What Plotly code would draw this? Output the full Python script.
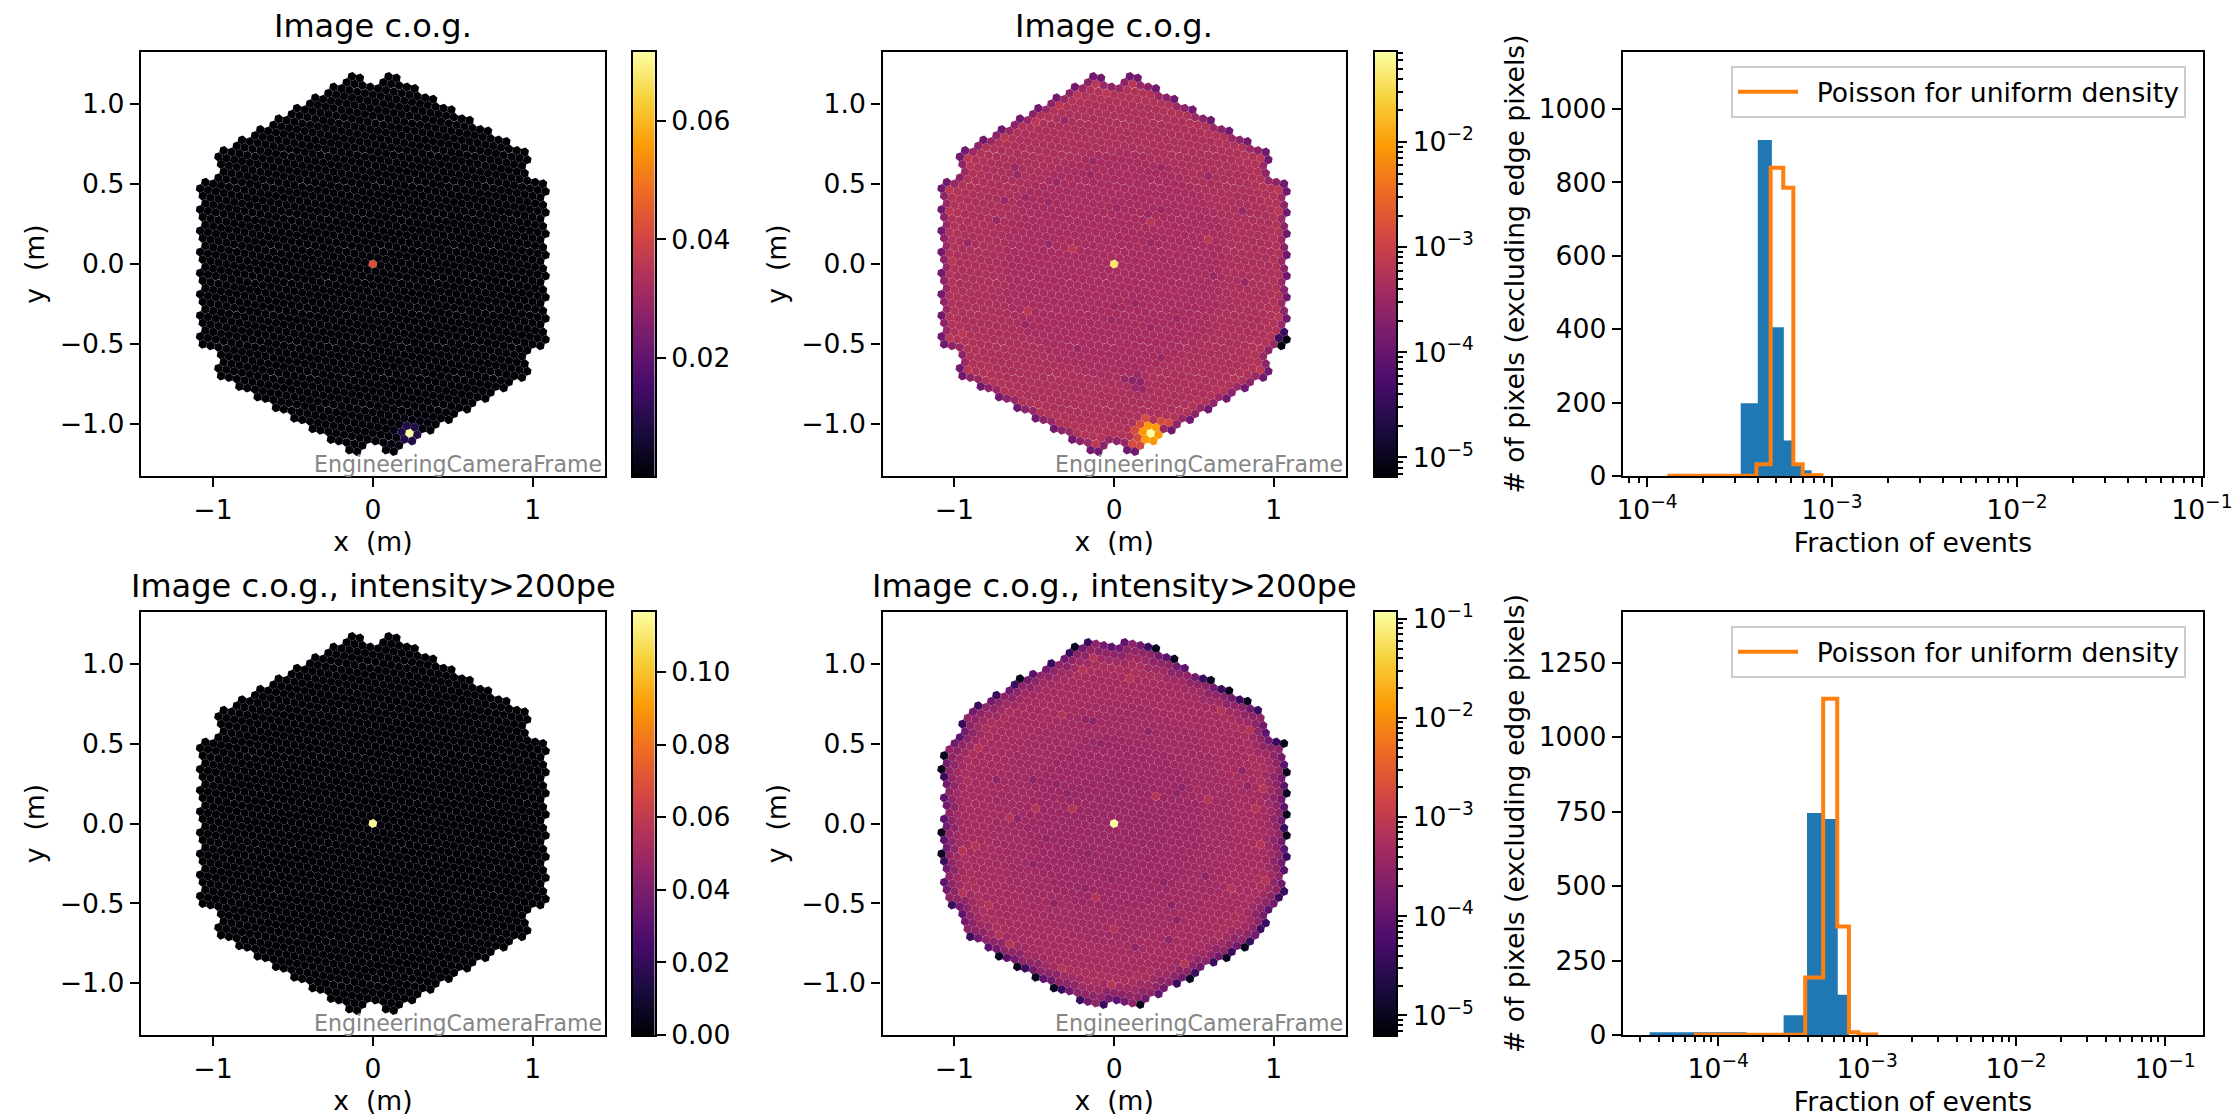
import numpy as np
import plotly.graph_objects as go
from plotly.colors import sequential

FONT = "DejaVu Sans"
W, H = 2235, 1118

# ---- chart text ------------------------------------------------------------
TITLE_ALL = "Image c.o.g."
TITLE_CUT = "Image c.o.g., intensity>200pe"
FRAME_TEXT = "EngineeringCameraFrame"
HIST_X_LABEL = "Fraction of events"
HIST_Y_LABEL = "# of pixels (excluding edge pixels)"
LEGEND_TEXT = "\u00a0\u2009Poisson for uniform density"

# ---- histogram values ------------------------------------------------------
hist1_edges = [3.21e-4, 3.97e-4, 4.73e-4, 5.49e-4, 6.25e-4, 7.0e-4, 7.76e-4]
hist1_counts = [198, 915, 405, 97, 28, 16]
poisson1_edges = [1.32e-4, 3.9e-4, 4.66e-4, 5.45e-4, 6.18e-4, 6.94e-4, 9.0e-4]
poisson1_counts = [1, 32, 840, 785, 32, 2]

hist2_edges = [3.47e-5, 1.55e-4, 2.75e-4, 3.95e-4, 5.15e-4, 6.35e-4, 7.55e-4]
hist2_counts = [9, 2, 66, 745, 725, 135]
poisson2_edges = [7.06e-5, 3.84e-4, 5.07e-4, 6.3e-4, 7.55e-4, 8.75e-4, 1.19e-3]
poisson2_counts = [1, 193, 1128, 364, 9, 2]

# ---- camera pixel values ---------------------------------------------------
# Levels of the uncut image, by radius of the interior and by edge layer
all_radius_limits = [0.70, 1.0, 9.0]
all_radius_levels = [4.4e-4, 4.9e-4, 5.4e-4]
all_layer1_level = 5.6e-4
all_edge_by_neighbours = {2: 1.2e-4, 3: 1.25e-4, 4: 2.4e-4, 5: 3.2e-4}
all_centre = 0.042
all_hot = 0.0715
all_hot_ring = 0.009
all_hot_pos = (0.225, -1.058)
all_dim_level = 3.2e-4
all_dim = [(.117, -.729), (.163, -.738), (.146, -.694), (.065, -.719), (.129, -.777), (.177, -.788),
           (-.129, .646), (-.146, .558), (.298, .604), (-.625, .604), (-.608, .558), (.590, .550),
           (.802, .333), (-.019, -.348), (-.556, -.381), (-.229, -.527), (.296, -.590), (.017, .348),
           (.210, .313), (.225, .133), (-.921, .133), (-.410, .129), (.819, -.110), (.235, -.392),
           (.371, -.340), (.621, -.058), (-.744, .275), (-.692, .400), (-.358, .515), (-.560, .421),
           (-.431, .400), (-.317, .900), (.298, .338), (.131, -.246), (-.004, -.260)]
all_dark_cluster_level = 2.4e-4
all_dark_cluster = [(.117, -.729), (.163, -.738)]
all_bright_level = 7e-4
all_bright = [(-.265, .094), (-.542, -.288), (.235, .260), (.590, .150), (-.900, .613), (-.917, .660),
              (-1.035, .463), (-1.035, .333), (-1.015, .021), (.917, .660), (1.031, .463), (1.031, .333),
              (1.031, -.329), (-.921, -.663), (.917, -.663), (-.115, 1.129), (.115, 1.129), (-.233, 1.067),
              (-.348, .994), (-.692, .792), (-.052, 1.071), (-.488, .894), (-.115, -1.121), (-1.035, -.458),
              (-.952, -.444)]
all_hot_halo_level = 1.4e-3
all_hot_halo = [(.163, -1.006), (.288, -.985), (.340, -.992), (.110, -1.033), (.142, -1.090), (.110, -1.131),
                (.163, -1.137), (.215, -.965)]
all_black_level = 8e-6
all_black = [(1.079, -.471), (1.048, -.513)]
all_navy_level = 4e-5
all_navy = [(1.065, -.427), (1.031, -.465)]

# Levels of the image with the intensity cut
cut_radius_limits = [0.35, 0.55, 0.75, 0.95, 9.0]
cut_radius_levels = [3.9e-4, 4.2e-4, 4.6e-4, 5.1e-4, 5.6e-4]
cut_layer1_level = 3.0e-4
cut_layer2_level = 4.4e-4
cut_edge_by_neighbours = {2: 0.0, 3: 0.0, 4: 9e-5, 5: 1.5e-4}
cut_centre = 0.115
cut_dim_level = 3.0e-4
cut_dim = [(-.181, .652), (-.133, .644), (.213, .575), (-.083, .502), (-.375, .248), (-.515, .269),
           (-.744, .269), (-.296, .185), (-.608, .025), (-.431, -.096), (-.019, -.354), (-.379, -.506),
           (-.192, -.419), (.308, -.371), (.575, -.335), (.802, .327), (.429, .227), (.392, .185),
           (.829, .233), (.350, -.513), (.392, -.606), (.121, -.777), (.346, -.731), (-.181, -.190),
           (-.515, -.263)]
cut_bright_level = 7.5e-4
cut_bright = [(-.213, .967), (-.119, 1.040), (.079, .904), (-.327, .675), (-.494, .092), (-.660, .040),
              (-.265, .092), (.263, .169), (.938, .217), (.881, .092), (.590, .154), (.913, -.127),
              (-.879, -.148), (-.952, -.169), (-.963, -.440), (-.785, -.502), (-.723, -.700), (-.660, -.752),
              (-.327, -.919), (-.015, -1.013), (.444, -.888), (0.0, -.665), (-.119, -.460), (.735, -.398),
              (.944, -.367), (.683, .706), (.850, .581), (-.848, .477)]
cut_black_level = 1.0e-5
cut_black = [(-.248, 1.106), (-.592, .908), (.377, 1.029), (.606, .898), (.721, .831), (.835, .765),
             (1.065, .498), (1.079, .317), (1.079, .188), (1.079, .052), (1.079, -.079), (-1.067, .425),
             (-1.083, .342), (-1.083, -.058), (-1.083, -.190), (-.723, -.835), (-.608, -.904), (-.494, -.971),
             (-.379, -1.035), (.471, -.981), (.704, -.846), (.819, -.779), (.163, -1.142), (.260, 1.096)]
cut_navy_level = 4e-5
cut_navy = [(-.167, 1.133), (.213, 1.106), (.904, .706), (1.017, .508), (1.065, -.033), (1.079, -.215),
            (1.031, -.467), (1.065, -.429), (.392, -1.008), (.506, -.940), (.621, -.877), (.735, -.808),
            (.850, -.742), (-.213, -1.113), (-.067, -1.142), (-.558, -.913), (-.331, -1.044), (-.904, -.715),
            (-1.019, -.513), (-1.067, .290), (-1.067, -.238), (-.952, .623), (-.740, .800), (-.852, .735),
            (-.625, .869), (-.396, 1.002), (-.281, 1.069), (.950, -.627), (.917, -.669), (.558, .908),
            (.673, .842), (.788, .775)]

# ---- camera geometry: 265 modules of 7 pixels ------------------------------
PITCH = 0.05
MODULE_RINGS = 9
LATTICE_ANGLE = 49.1

def camera_pixels():
    s = PITCH * np.sqrt(7)
    a = np.array([0.0, s])
    b = np.array([s * np.cos(np.radians(30)), s / 2])
    angles = np.radians(LATTICE_ANGLE + 60 * np.arange(6))
    flower = np.vstack([[0, 0], np.c_[PITCH * np.cos(angles), PITCH * np.sin(angles)]])
    pts = []
    n = MODULE_RINGS
    for q in range(-n, n + 1):
        for r in range(-n, n + 1):
            if abs(q + r) > n:
                continue
            if sorted([abs(q), abs(r), abs(q + r)]) == [0, n, n]:
                continue
            pts.append(q * b + r * a)
    pts = np.array(pts)
    return (pts[:, None, :] + flower[None, :, :]).reshape(-1, 2)

pix = camera_pixels()
dist = np.hypot(pix[:, None, 0] - pix[None, :, 0], pix[:, None, 1] - pix[None, :, 1])
adj = (dist > 0.01) & (dist < PITCH * 1.2)
neigh = adj.sum(1)
layer0 = neigh < 6
layer1 = ~layer0 & adj[:, layer0].any(1)
layer2 = ~layer0 & ~layer1 & adj[:, layer1].any(1)
radius = np.hypot(pix[:, 0], pix[:, 1])

def nearest(p):
    return int(np.argmin(np.hypot(pix[:, 0] - p[0], pix[:, 1] - p[1])))

def base_image(limits, levels, edge):
    v = np.array(levels)[np.searchsorted(limits, radius)]
    for k, lev in edge.items():
        v[layer0 & (neigh == k)] = lev
    return v

def assign(v, points, level):
    for p in points:
        v[nearest(p)] = level

img_all = base_image(all_radius_limits, all_radius_levels, all_edge_by_neighbours)
img_all[layer1] = all_layer1_level
assign(img_all, all_dim, all_dim_level)
assign(img_all, all_dark_cluster, all_dark_cluster_level)
assign(img_all, all_bright, all_bright_level)
assign(img_all, all_hot_halo, all_hot_halo_level)
assign(img_all, all_black, all_black_level)
assign(img_all, all_navy, all_navy_level)
img_all[nearest((0, 0))] = all_centre
hot = nearest(all_hot_pos)
img_all[adj[hot]] = all_hot_ring
img_all[hot] = all_hot

img_cut = base_image(cut_radius_limits, cut_radius_levels, cut_edge_by_neighbours)
img_cut[layer1] = cut_layer1_level
img_cut[layer2] = cut_layer2_level
assign(img_cut, cut_dim, cut_dim_level)
assign(img_cut, cut_bright, cut_bright_level)
assign(img_cut, cut_navy, cut_navy_level)
assign(img_cut, cut_black, cut_black_level)
img_cut[nearest((0, 0))] = cut_centre

# ---- layout in pixels ------------------------------------------------------
ROWS = [(52, 476), (612, 1035)]
COL_CAM1 = (141, 605)
COL_BAR1 = (633, 654.5)
COL_CAM2 = (882.5, 1346)
COL_BAR2 = (1375, 1396)
COL_HIST = (1623, 2203)

TICK = 26.6
LW = 2.1

def dx(c):
    return [c[0] / W, c[1] / W]

def dy(r):
    return [1 - r[1] / H, 1 - r[0] / H]

def px(x):
    return x / W

def py(y):
    return 1 - y / H

fig = go.Figure()
axis_id = [0]

def base_axis():
    return dict(showline=True, linecolor="black", linewidth=LW, mirror=True, ticks="outside", ticklen=9.3,
                tickwidth=LW, tickcolor="black", showgrid=False, zeroline=False, automargin=False,
                tickfont=dict(family=FONT, size=TICK, color="black"), title_font=dict(family=FONT, size=TICK, color="black"))

def new_axes(col, row, xa, ya):
    axis_id[0] += 1
    i = axis_id[0]
    n = "" if i == 1 else str(i)
    xa.update(domain=dx(col), anchor="y" + n)
    ya.update(domain=dy(row), anchor="x" + n)
    fig.layout["xaxis" + n] = xa
    fig.layout["yaxis" + n] = ya
    return "x" + n, "y" + n

cam_x_ticks = [-1, 0, 1]
cam_x_text = ["\u22121", "0", "1"]
cam_y_ticks = [-1.0, -0.5, 0.0, 0.5, 1.0]
cam_y_text = ["\u22121.0", "\u22120.5", "0.0", "0.5", "1.0"]
INFERNO = sequential.Inferno

def camera_panel(col, row, values, cmin, cmax, title):
    xa = base_axis()
    xa.update(range=[-1.45, 1.452], tickvals=cam_x_ticks, ticktext=cam_x_text,
              title=dict(text="x\u00a0\u00a0(m)", standoff=8))
    ya = base_axis()
    ya.update(range=[-1.325, 1.325], tickvals=cam_y_ticks, ticktext=cam_y_text,
              title=dict(text="y\u00a0\u00a0(m)", standoff=7))
    xr, yr = new_axes(col, row, xa, ya)
    keep = ~np.isnan(values)
    fig.add_trace(go.Scatter(x=pix[keep, 0], y=pix[keep, 1], xaxis=xr, yaxis=yr, mode="markers", showlegend=False,
                             marker=dict(symbol="hexagon", angle=10.9, size=9.2, color=values[keep], colorscale=INFERNO,
                                         cmin=cmin, cmax=cmax, showscale=False, line=dict(width=0))))
    fig.add_annotation(x=px((col[0] + col[1]) / 2), y=py(row[0] - 26), xref="paper", yref="paper", text=title,
                       showarrow=False, font=dict(family=FONT, size=32, color="black"), xanchor="center", yanchor="middle")
    fig.add_annotation(x=px(col[1] - 1), y=py(row[1] - 12), xref="paper", yref="paper", text=FRAME_TEXT,
                       showarrow=False, font=dict(family=FONT, size=22.1, color="#858585"), xanchor="right", yanchor="middle")

def colour_bar(col, row, cmin, cmax, tickvals, ticktext, minor=None):
    xa = dict(showline=True, linecolor="black", linewidth=LW, mirror=True, ticks="", showticklabels=False,
              showgrid=False, zeroline=False, range=[-0.5, 0.5], automargin=False)
    ya = base_axis()
    ya.update(range=[cmin, cmax], side="right", tickvals=tickvals, ticktext=ticktext)
    if minor is not None:
        ya["minor"] = dict(tickvals=minor, ticks="outside", ticklen=5.3, tickwidth=1.6, tickcolor="black", showgrid=False)
    xr, yr = new_axes(col, row, xa, ya)
    levels = np.linspace(cmin, cmax, 256)
    fig.add_trace(go.Heatmap(x=[0], y=levels, z=levels[:, None], xaxis=xr, yaxis=yr, colorscale=INFERNO,
                             zmin=cmin, zmax=cmax, showscale=False, hoverinfo="skip"))

def decade_text(e):
    return "10<sup>\u2212%d</sup>" % abs(e)

def log_minor(lo, hi):
    return [k * 10.0 ** e for e in range(lo, hi) for k in range(2, 10)]

def hist_panel(row, edges, counts, pedges, pcounts, xrange_, yrange_, ymajor, legend_name):
    xa = base_axis()
    decs = [-4, -3, -2, -1]
    xa.update(type="log", range=xrange_, tickvals=[10.0 ** e for e in decs], ticktext=[decade_text(e) for e in decs],
              minor=dict(tickvals=log_minor(-6, 0), ticks="outside", ticklen=5.3, tickwidth=1.6, tickcolor="black", showgrid=False),
              title=dict(text=HIST_X_LABEL, standoff=9))
    ya = base_axis()
    ya.update(range=yrange_, tickvals=ymajor, ticktext=[str(v) for v in ymajor],
              title=dict(text=HIST_Y_LABEL, standoff=6))
    xr, yr = new_axes(COL_HIST, row, xa, ya)
    fig.add_trace(go.Scatter(x=edges, y=counts + [counts[-1]], xaxis=xr, yaxis=yr, mode="lines", showlegend=False,
                             line=dict(shape="hv", width=0, color="#1f77b4"), fill="tozeroy", fillcolor="#1f77b4"))
    fig.add_trace(go.Scatter(x=[pedges[0]] + pedges, y=[0] + pcounts + [pcounts[-1], 0][:2], xaxis=xr, yaxis=yr, mode="lines",
                             name=LEGEND_TEXT, legend=legend_name, line=dict(shape="hv", width=4, color="#ff7f0e")))
    fig.layout[legend_name] = dict(x=px(1731), y=py(row[0] + 14), xanchor="left", yanchor="top", bgcolor="white",
                                   bordercolor="#cccccc", borderwidth=2, itemwidth=60,
                                   font=dict(family=FONT, size=TICK, color="black"))

def log10img(v):
    out = np.full(v.shape, np.nan)
    out[v > 0] = np.log10(v[v > 0])
    return out

def log_bar_minor(cmin, cmax):
    vals = [np.log10(k) + e for e in range(-7, 1) for k in range(2, 10)]
    return [v for v in vals if cmin <= v <= cmax]

R1, R2 = ROWS
# Row 1
camera_panel(COL_CAM1, R1, img_all, 0.00005, 0.0716, TITLE_ALL)
colour_bar(COL_BAR1, R1, 0.00005, 0.0716, [0.02, 0.04, 0.06], ["0.02", "0.04", "0.06"])
camera_panel(COL_CAM2, R1, log10img(img_all), -5.177, -1.143, TITLE_ALL)
colour_bar(COL_BAR2, R1, -5.177, -1.143, [-5, -4, -3, -2], [decade_text(e) for e in [-5, -4, -3, -2]],
           log_bar_minor(-5.177, -1.143))
hist_panel(R1, hist1_edges, hist1_counts, poisson1_edges, poisson1_counts, [-4.13, -0.994], [0, 1155],
           [0, 200, 400, 600, 800, 1000], "legend")
# Row 2
camera_panel(COL_CAM1, R2, img_cut, 0.0, 0.1165, TITLE_CUT)
colour_bar(COL_BAR1, R2, 0.0, 0.1165, [0.0, 0.02, 0.04, 0.06, 0.08, 0.10], ["0.00", "0.02", "0.04", "0.06", "0.08", "0.10"])
camera_panel(COL_CAM2, R2, log10img(img_cut), -5.197, -0.932, TITLE_CUT)
colour_bar(COL_BAR2, R2, -5.197, -0.932, [-5, -4, -3, -2, -1], [decade_text(e) for e in [-5, -4, -3, -2, -1]],
           log_bar_minor(-5.197, -0.932))
hist_panel(R2, hist2_edges, hist2_counts, poisson2_edges, poisson2_counts, [-4.639, -0.745], [0, 1419.5],
           [0, 250, 500, 750, 1000, 1250], "legend2")

fig.update_layout(width=W, height=H, margin=dict(l=0, r=0, t=0, b=0), paper_bgcolor="white", plot_bgcolor="white",
                  font=dict(family=FONT, color="black"))
fig.write_html("out.html", config=dict(displayModeBar=False),
               post_script="document.body.style.margin='0';document.body.style.overflow='hidden';")
